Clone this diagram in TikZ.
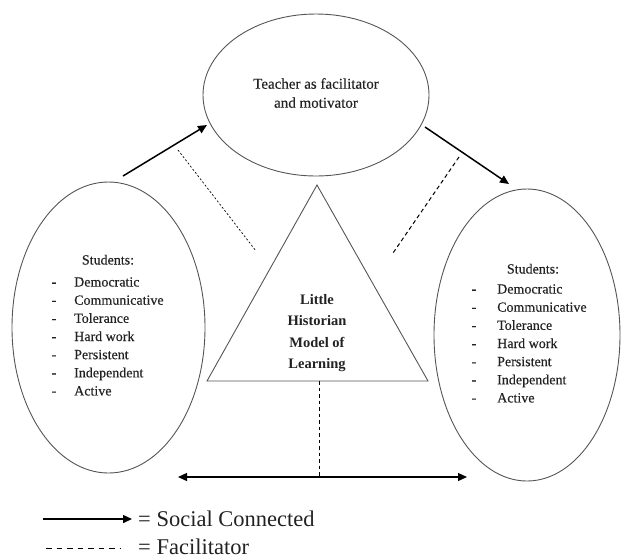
\documentclass[tikz,border=0pt]{standalone}
\usepackage{fontspec}
\setmainfont{Liberation Serif}
\newfontfamily\semib[FakeBold=0.35]{Liberation Serif}
\usetikzlibrary{arrows.meta,shapes.geometric}
\definecolor{linegray}{HTML}{555555}
\definecolor{txt}{HTML}{222222}
\tikzset{
  oval/.style={ellipse,draw=linegray,line width=0.9pt,inner sep=0pt},
  item/.style={anchor=base west,text=txt,font=\semib\fontsize{14}{16}\selectfont,inner sep=0pt},
  dashmark/.style={anchor=base,text=txt,font=\semib\fontsize{14}{16}\selectfont,inner sep=0pt},
  head/.style={anchor=base,text=txt,font=\semib\fontsize{14}{16}\selectfont,inner sep=0pt},
  social/.style={line width=1.5pt,-{Triangle[length=9pt,width=8pt]}},
  dotline/.style={line width=0.7pt,dash pattern=on 2pt off 2pt},
  dashline/.style={line width=1pt,dash pattern=on 4pt off 3pt},
  legtext/.style={anchor=base west,text=txt,font=\fontsize{22.5}{24}\selectfont,inner sep=0pt}
}
\begin{document}
\begin{tikzpicture}[x=1pt,y=-1pt]
\useasboundingbox (0,0) rectangle (621,558);
% ellipses
\node[oval,minimum width=226pt,minimum height=162pt] (teacher) at (316,95) {};
\node[text=txt,align=center,font=\semib\fontsize{15}{19}\selectfont] (teachertext) at (316,93) {Teacher as facilitator\\and motivator};
\node[oval,minimum width=193pt,minimum height=291pt] (left) at (108.5,327.5) {};
\node[oval,minimum width=186pt,minimum height=292pt] (right) at (527,335) {};
% triangle
\coordinate (tA) at (317,185);
\coordinate (tB) at (207,381);
\coordinate (tC) at (428,381);
\draw[linegray,line width=0.9pt] (tA) -- (tB) -- (tC) -- cycle;
\node[text=txt,align=center,font=\bfseries\fontsize{14.5}{21.3}\selectfont] (lhml) at (317,333) {Little\\Historian\\Model of\\Learning};
% left list
\node[head] (lstud) at (108,264.5) {Students:};
\foreach \t [count=\i] in {Democratic,Communicative,Tolerance,Hard work,Persistent,Independent,Active}{
  \node[dashmark] (ld\i) at (54,{268.4+18.15*\i}) {-};
  \node[item] (li\i) at (74,{268.4+18.15*\i}) {\t};
}
% right list
\node[head] (rstud) at (533,273.5) {Students:};
\foreach \t [count=\i] in {Democratic,Communicative,Tolerance,Hard work,Persistent,Independent,Active}{
  \node[dashmark] (rd\i) at (474,{275.4+18.15*\i}) {-};
  \node[item] (ri\i) at (497,{275.4+18.15*\i}) {\t};
}
% arrows
\coordinate (a1s) at (123,176);
\coordinate (a1e) at (207,125);
\draw[social] (a1s) -- (a1e);
\coordinate (a2s) at (425,127);
\coordinate (a2e) at (509,184);
\draw[social] (a2s) -- (a2e);
% dotted / dashed
\coordinate (d1s) at (178,150);
\coordinate (d1e) at (256,251);
\draw[dotline] (d1s) -- (d1e);
\coordinate (d2s) at (459,157);
\coordinate (d2e) at (393,253);
\draw[dashline] (d2s) -- (d2e);
% bottom
\coordinate (hl) at (178,477);
\coordinate (hr) at (467,477);
\coordinate (hm) at (319,477);
\coordinate (tbm) at (319,381);
\draw[line width=1.3pt,{Triangle[length=9pt,width=8pt]}-{Triangle[length=9pt,width=8pt]}] (hl) -- (hr);
\draw[line width=0.9pt,dash pattern=on 3.5pt off 3pt] (tbm) -- (hm);
% legend
\coordinate (l1s) at (43,519);
\coordinate (l1e) at (132,519);
\draw[social] (l1s) -- (l1e);
\node[legtext] (leg1) at (138,526) {= Social Connected};
\coordinate (l2s) at (46,548);
\coordinate (l2e) at (121,548);
\draw[line width=1pt,dash pattern=on 5.5pt off 5pt] (l2s) -- (l2e);
\node[legtext] (leg2) at (138,554) {= Facilitator};
\end{tikzpicture}
\end{document}
